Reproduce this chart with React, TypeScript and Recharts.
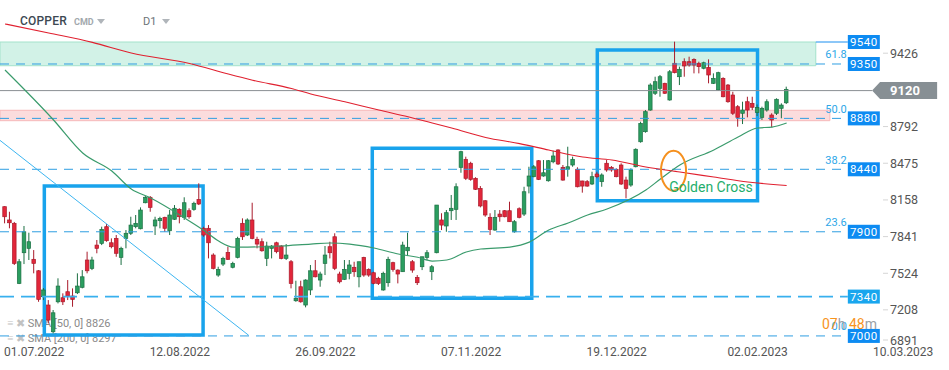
import React from "react";
import {
  ComposedChart,
  Bar,
  Line,
  XAxis,
  YAxis,
  ReferenceLine,
  ReferenceArea,
  ReferenceDot,
} from "recharts";

// daily candles (index 0 = first candle on the left)
const opens = [
  8117, 8002, 7973, 7454, 7719, 7757, 7662, 7563, 7339, 7267,
  7036, 7295, 7330, 7382, 7345, 7373, 7420, 7656, 7584, 7785,
  7800, 7944, 7805, 7843, 7679, 7843, 7887, 7944, 7926, 8151,
  8198, 7950, 7996, 8025, 7909, 8008, 8094, 8025, 8082, 8094,
  8180, 7930, 7930, 7699, 7526, 7621, 7722, 7593, 7679, 7973,
  7872, 8002, 7835, 7814, 7670, 7757, 7805, 7777, 7670, 7641,
  7304, 7425, 7267, 7397, 7563, 7483, 7627, 7771, 7857, 7535,
  7489, 7541, 7593, 7511, 7679, 7575, 7546, 7498, 7397, 7460,
  7633, 7569, 7555, 7736, 7641, 7506, 7598, 7679, 7555, 7719,
  8002, 7950, 8082, 8094, 8457, 8526, 8492, 8362, 8275, 8168,
  8025, 7915, 8053, 8082, 8082, 7900, 8099, 8053, 8295, 8376,
  8514, 8382, 8341, 8505, 8607, 8457, 8440, 8477, 8440, 8339,
  8333, 8313, 8399, 8333, 8492, 8457, 8440, 8477, 8347, 8304,
  8462, 8678, 8765, 8952, 9097, 9140, 9183, 9039, 9356, 9240,
  9370, 9370, 9390, 9356, 9313, 9321, 9183, 9125, 9226, 9168,
  9082, 8981, 8924, 9024, 9010, 8930, 8889, 8952, 8909, 8924,
  8967, 9015,
];
const highs = [
  8120, 8073, 7985, 7665, 7950, 7892, 7742, 7569, 7414, 7310,
  7224, 7498, 7368, 7483, 7411, 7541, 7569, 7728, 7684, 7829,
  7944, 7967, 7843, 7872, 7771, 7915, 8030, 8045, 8111, 8209,
  8209, 8030, 8030, 8030, 8088, 8131, 8103, 8198, 8103, 8160,
  8319, 7944, 7958, 7714, 7598, 7684, 7771, 7641, 7857, 8016,
  8016, 8151, 7857, 7843, 7814, 7785, 7814, 7785, 7794, 7656,
  7477, 7477, 7489, 7613, 7656, 7555, 7777, 7814, 7887, 7555,
  7656, 7656, 7641, 7641, 7684, 7584, 7555, 7511, 7555, 7684,
  7641, 7575, 7814, 7892, 7656, 7526, 7684, 7742, 7613, 8131,
  8060, 8088, 8218, 8319, 8600, 8549, 8505, 8371, 8295, 8174,
  8060, 8088, 8088, 8088, 8160, 8002, 8111, 8289, 8462, 8477,
  8520, 8520, 8520, 8600, 8613, 8477, 8635, 8549, 8457, 8341,
  8347, 8419, 8419, 8405, 8520, 8468, 8448, 8492, 8376, 8448,
  8621, 8851, 8952, 9183, 9240, 9255, 9188, 9298, 9543, 9327,
  9399, 9413, 9399, 9370, 9370, 9390, 9269, 9283, 9235, 9177,
  9110, 8995, 9024, 9067, 9067, 9000, 8981, 9045, 8924, 9053,
  9010, 9154,
];
const lows = [
  7973, 7930, 7613, 7448, 7621, 7656, 7541, 7295, 7310, 7109,
  7022, 7281, 7267, 7310, 7252, 7362, 7411, 7541, 7569, 7714,
  7785, 7814, 7757, 7684, 7613, 7757, 7872, 7930, 7921, 8146,
  8073, 7872, 7930, 7900, 7872, 8002, 7973, 8002, 8013, 8082,
  8131, 7857, 7670, 7575, 7511, 7604, 7656, 7584, 7670, 7829,
  7863, 7835, 7757, 7728, 7604, 7670, 7714, 7662, 7656, 7411,
  7295, 7287, 7247, 7353, 7506, 7425, 7526, 7670, 7569, 7454,
  7483, 7489, 7511, 7420, 7511, 7511, 7446, 7440, 7391, 7425,
  7555, 7454, 7555, 7690, 7546, 7440, 7569, 7656, 7483, 7714,
  7915, 7900, 8002, 8002, 8410, 8347, 8341, 8261, 8111, 8030,
  7872, 7909, 7987, 8025, 7987, 7892, 8016, 8036, 8232, 8371,
  8347, 8376, 8333, 8492, 8477, 8341, 8376, 8462, 8284, 8238,
  8289, 8304, 8362, 8289, 8419, 8419, 8371, 8304, 8189, 8289,
  8457, 8670, 8756, 8946, 9082, 9067, 9091, 9033, 9269, 9168,
  9240, 9327, 9269, 9269, 9304, 9183, 9177, 9119, 9062, 9015,
  8909, 8808, 8831, 8889, 8952, 8900, 8866, 8938, 8803, 8909,
  8881, 9004,
];
const closes = [
  8030, 7978, 7627, 7641, 7900, 7814, 7627, 7316, 7397, 7137,
  7200, 7431, 7295, 7345, 7316, 7431, 7511, 7563, 7656, 7757,
  7921, 7823, 7771, 7714, 7757, 7887, 7958, 7973, 8088, 8198,
  8111, 8002, 8016, 7930, 8045, 8103, 8030, 8151, 8030, 8146,
  8140, 7872, 7805, 7584, 7575, 7670, 7662, 7627, 7843, 7857,
  8002, 7843, 7794, 7736, 7777, 7777, 7728, 7670, 7699, 7454,
  7325, 7295, 7483, 7563, 7511, 7535, 7699, 7719, 7584, 7468,
  7575, 7613, 7555, 7641, 7526, 7526, 7454, 7454, 7541, 7662,
  7575, 7535, 7785, 7766, 7569, 7460, 7684, 7719, 7598, 8131,
  7958, 8065, 8103, 8289, 8592, 8362, 8353, 8267, 8123, 8045,
  7921, 8025, 8030, 8030, 7987, 7987, 8025, 8246, 8382, 8462,
  8353, 8410, 8514, 8555, 8486, 8347, 8462, 8526, 8289, 8295,
  8295, 8376, 8376, 8391, 8434, 8434, 8376, 8313, 8275, 8434,
  8613, 8837, 8938, 9168, 9197, 9240, 9097, 9283, 9275, 9304,
  9333, 9341, 9341, 9327, 9361, 9255, 9226, 9275, 9067, 9024,
  8924, 8889, 8952, 8952, 8976, 8975, 8967, 9024, 8866, 9045,
  8995, 9131,
];

// moving averages, read at a number of candles: [candle index, value]
const sma50Points = [
  [0, 9298], [10, 8866], [16, 8581], [22, 8425], [26, 8270], [30, 8192],
  [37, 8019], [41, 7911], [44, 7820], [47, 7768], [50, 7768], [57, 7777],
  [63, 7794], [67, 7803], [71, 7794], [76, 7760], [81, 7708], [85, 7680],
  [88, 7647], [91, 7656], [95, 7725], [98, 7751], [104, 7768], [108, 7811],
  [112, 7915], [116, 7976], [120, 8045], [124, 8097], [132, 8261], [135, 8356],
  [139, 8477], [146, 8607], [151, 8719], [155, 8797], [158, 8805], [161, 8840],
];
const sma200Points = [
  [0, 9696], [9, 9618], [18, 9537], [26, 9445], [38, 9355], [46, 9263],
  [51, 9210], [59, 9138], [63, 9091], [70, 9024], [77, 8952], [83, 8894],
  [88, 8840], [92, 8797], [99, 8715], [106, 8662], [112, 8607], [119, 8546],
  [125, 8520], [132, 8460], [139, 8416], [146, 8373], [153, 8330], [161, 8300],
];

const dateTicks = [6, 36, 66, 96, 126, 155, 185];
const dateLabels = ["01.07.2022", "12.08.2022", "26.09.2022", "07.11.2022", "19.12.2022", "02.02.2023", "10.03.2023"];
const priceTicks = [6891, 7208, 7524, 7841, 8158, 8475, 8792, 9426];

const levels = [9350, 8880, 8440, 7900, 7340, 7000];
const fibLabels = ["61.8", "50.0", "38.2", "23.6", "", "0.0"];
const resistanceTop = 9540;
const lastPrice = 9120;

const X_MIN = -1.03;
const X_MAX = 194.44;
const X_BADGE = 173.6;
const X_PRICE = 178.6;

const data = opens.map((o, i) => ({ i, o, h: highs[i], l: lows[i], c: closes[i] }));
const sma50Data = sma50Points.map(([i, v]) => ({ i, sma50: v }));
const sma200Data = sma200Points.map(([i, v]) => ({ i, sma200: v }));

const Candle = (props: any) => {
  const { x, y, width, height, payload } = props;
  if (x == null || y == null) return null;
  const { o, h, l, c } = payload;
  const top = Math.min(y, y + height);
  const span = Math.abs(height);
  const py = (v: number) => top + ((h - v) / (h - l || 1)) * span;
  const cx = x + width / 2;
  const up = c >= o;
  const fill = up ? "#2b9e60" : "#e2263a";
  const edge = up ? "#1c6f43" : "#a91b2b";
  const bTop = py(Math.max(o, c));
  const bBot = py(Math.min(o, c));
  return (
    <g>
      <line x1={cx} x2={cx} y1={top} y2={top + span} stroke={edge} strokeWidth={1} />
      <rect x={cx - 1.8} y={bTop} width={3.6} height={Math.max(bBot - bTop, 1)} fill={fill} stroke={edge} strokeWidth={0.7} />
    </g>
  );
};

const DateTick = (props: any) => {
  const { x, payload } = props;
  const k = dateTicks.indexOf(payload.value);
  return (
    <text x={x} y={356} textAnchor="middle" fill="#555" fontSize={12} fontFamily="Roboto">
      {dateLabels[k]}
    </text>
  );
};

const PriceTick = (props: any) => {
  const { y, payload } = props;
  const ty = Math.min(y - 2, 340);
  return (
    <g>
      <line x1={883} x2={888} y1={ty} y2={ty} stroke="#d5d5d5" />
      <text x={890} y={ty} dominantBaseline="central" fill="#555" fontSize={12.5} fontFamily="Roboto">
        {payload.value}
      </text>
    </g>
  );
};

const badge = (label: string, fill: string, fib: string) => (p: any) => (
  <g fontFamily="Roboto">
    {fib ? (
      <text x={p.cx - 1} y={p.cy - 9} textAnchor="end" dominantBaseline="central" fill="#2ea7e8" fontSize={11}>
        {fib}
      </text>
    ) : null}
    <rect x={p.cx} y={p.cy - 7} width={32} height={14} fill={fill} />
    <text x={p.cx + 16} y={p.cy} textAnchor="middle" dominantBaseline="central" fill="#fff" fontSize={11.5} letterSpacing={0.5}>
      {label}
    </text>
  </g>
);

const priceBadge = (p: any) => (
  <g fontFamily="Roboto">
    <polygon
      points={`${p.cx},${p.cy} ${p.cx + 8},${p.cy - 8.5} ${p.cx + 65},${p.cy - 8.5} ${p.cx + 65},${p.cy + 8.5} ${p.cx + 8},${p.cy + 8.5}`}
      fill="#878f94"
    />
    <text x={p.cx + 18} y={p.cy} dominantBaseline="central" fill="#fff" fontSize={13} fontWeight="bold">
      {lastPrice}
    </text>
  </g>
);

export default function App() {
  return (
    <div style={{ position: "absolute", left: 0, top: 0, width: 949, height: 370, background: "#fff", fontFamily: "Roboto" }}>
      {/* indicator legend, under the plot */}
      <div style={{ position: "absolute", left: 7, top: 316, fontSize: 11, color: "#8a8a8a", lineHeight: "15px" }}>
        <div><span style={{ color: "#c2c2c2" }}>≡ ✖</span> SMA [50, 0] 8826</div>
        <div><span style={{ color: "#c2c2c2" }}>≡ ✖</span> SMA [200, 0] 8297</div>
      </div>
      <div style={{ position: "absolute", left: 0, top: 0 }}>
        <ComposedChart width={949} height={370} data={data} margin={{ top: 0, right: 0, bottom: 0, left: 0 }}>
          <XAxis
            type="number"
            dataKey="i"
            domain={[X_MIN, X_MAX]}
            ticks={dateTicks}
            interval={0}
            tick={<DateTick />}
            axisLine={false}
            tickLine={false}
            height={21}
            allowDataOverflow
          />
          <YAxis
            orientation="right"
            mirror
            domain={[6887, 9903]}
            ticks={priceTicks}
            interval={0}
            tick={<PriceTick />}
            axisLine={false}
            tickLine={false}
            allowDataOverflow
          />
          <ReferenceArea x1={X_MIN} x2={167} y1={9335} y2={resistanceTop} fill="#d2f2e7" fillOpacity={1} stroke="#a3e2cb" strokeWidth={1} ifOverflow="visible" />
          <ReferenceArea x1={X_MIN} x2={169.9} y1={8860} y2={8950} fill="#fbdcdd" fillOpacity={1} stroke="#f6b8b9" strokeWidth={1} ifOverflow="visible" />
          <ReferenceLine
            segment={[{ x: 167, y: resistanceTop }, { x: X_BADGE, y: resistanceTop }]}
            stroke="#1b8ff0"
            ifOverflow="visible"
          />
          {levels.map((v) => (
            <ReferenceLine
              key={v}
              segment={[{ x: X_MIN, y: v }, { x: X_BADGE, y: v }]}
              stroke={v === 7340 ? "#38b0ee" : "#2f9fe2"}
              strokeWidth={v === 7340 ? 1.6 : 1}
              strokeDasharray={v === 7340 ? "14 7" : "9 7"}
              ifOverflow="visible"
            />
          ))}
          <ReferenceLine
            segment={[{ x: X_MIN, y: lastPrice }, { x: X_PRICE, y: lastPrice }]}
            stroke="#8a8f93"
            strokeWidth={1}
            ifOverflow="visible"
          />
          <Bar dataKey={(d: any) => [d.l, d.h]} shape={<Candle />} barSize={4} isAnimationActive={false} />
          <Line data={sma50Data} dataKey="sma50" type="monotone" stroke="#3a9b6c" strokeWidth={1.2} dot={false} activeDot={false} isAnimationActive={false} />
          <Line data={sma200Data} dataKey="sma200" type="monotone" stroke="#e0202f" strokeWidth={1.1} dot={false} activeDot={false} isAnimationActive={false} />
          <ReferenceLine
            segment={[{ x: X_MIN, y: 8690 }, { x: 50.2, y: 7005 }]}
            stroke="#3db5f0"
            strokeWidth={1}
            ifOverflow="visible"
          />
          <ReferenceArea x1={8.1} x2={40.8} y1={7008} y2={8295} fill="none" stroke="#18a3ec" strokeWidth={3.5} ifOverflow="visible" />
          <ReferenceArea x1={75.65} x2={108.5} y1={7325} y2={8621} fill="none" stroke="#18a3ec" strokeWidth={3.5} ifOverflow="visible" />
          <ReferenceArea x1={122} x2={155} y1={8168} y2={9471} fill="none" stroke="#18a3ec" strokeWidth={3.5} ifOverflow="visible" />
          <ReferenceDot
            x={137.7}
            y={8428}
            r={1}
            ifOverflow="visible"
            shape={(p: any) => <ellipse cx={p.cx} cy={p.cy} rx={12.5} ry={20} fill="none" stroke="#f5901e" strokeWidth={2} />}
          />
          <ReferenceDot
            x={136.8}
            y={8287}
            r={1}
            ifOverflow="visible"
            shape={(p: any) => (
              <text x={p.cx} y={p.cy} dominantBaseline="central" fill="#1fae6c" fontSize={14} fontFamily="Roboto">
                Golden Cross
              </text>
            )}
          />
          <ReferenceDot x={X_BADGE} y={resistanceTop} r={1} ifOverflow="visible" shape={badge(String(resistanceTop), "#0d8bf2", "")} />
          {levels.map((v, k) => (
            <ReferenceDot
              key={"b" + v}
              x={X_BADGE}
              y={v}
              r={1}
              ifOverflow="visible"
              shape={badge(String(v), v === 7340 ? "#19a6ee" : "#0d8bf2", fibLabels[k])}
            />
          ))}
          <ReferenceDot x={X_PRICE} y={lastPrice} r={1} ifOverflow="visible" shape={priceBadge} />
        </ComposedChart>
      </div>
      {/* header */}
      <div style={{ position: "absolute", left: 20, top: 14, fontSize: 12, fontWeight: 500, color: "#3d4852", letterSpacing: 0.2 }}>
        COPPER
      </div>
      <div style={{ position: "absolute", left: 74, top: 17, fontSize: 9, fontWeight: "bold", color: "#a2a8ad" }}>CMD</div>
      <div style={{ position: "absolute", left: 97, top: 19, width: 0, height: 0, borderLeft: "4px solid transparent", borderRight: "4px solid transparent", borderTop: "5px solid #b0b5ba" }} />
      <div style={{ position: "absolute", left: 143, top: 15, fontSize: 11, color: "#6b7278" }}>D1</div>
      <div style={{ position: "absolute", left: 162, top: 19, width: 0, height: 0, borderLeft: "4px solid transparent", borderRight: "4px solid transparent", borderTop: "5px solid #b0b5ba" }} />
      {/* candle countdown */}
      <div style={{ position: "absolute", left: 822, top: 316, fontSize: 14, whiteSpace: "nowrap" }}>
        <span style={{ color: "#f7941d" }}>07</span>
        <span style={{ color: "#9aa0a5" }}>h</span>{" "}
        <span style={{ color: "#f7941d" }}>48</span>
        <span style={{ color: "#9aa0a5" }}>m</span>
      </div>
    </div>
  );
}
